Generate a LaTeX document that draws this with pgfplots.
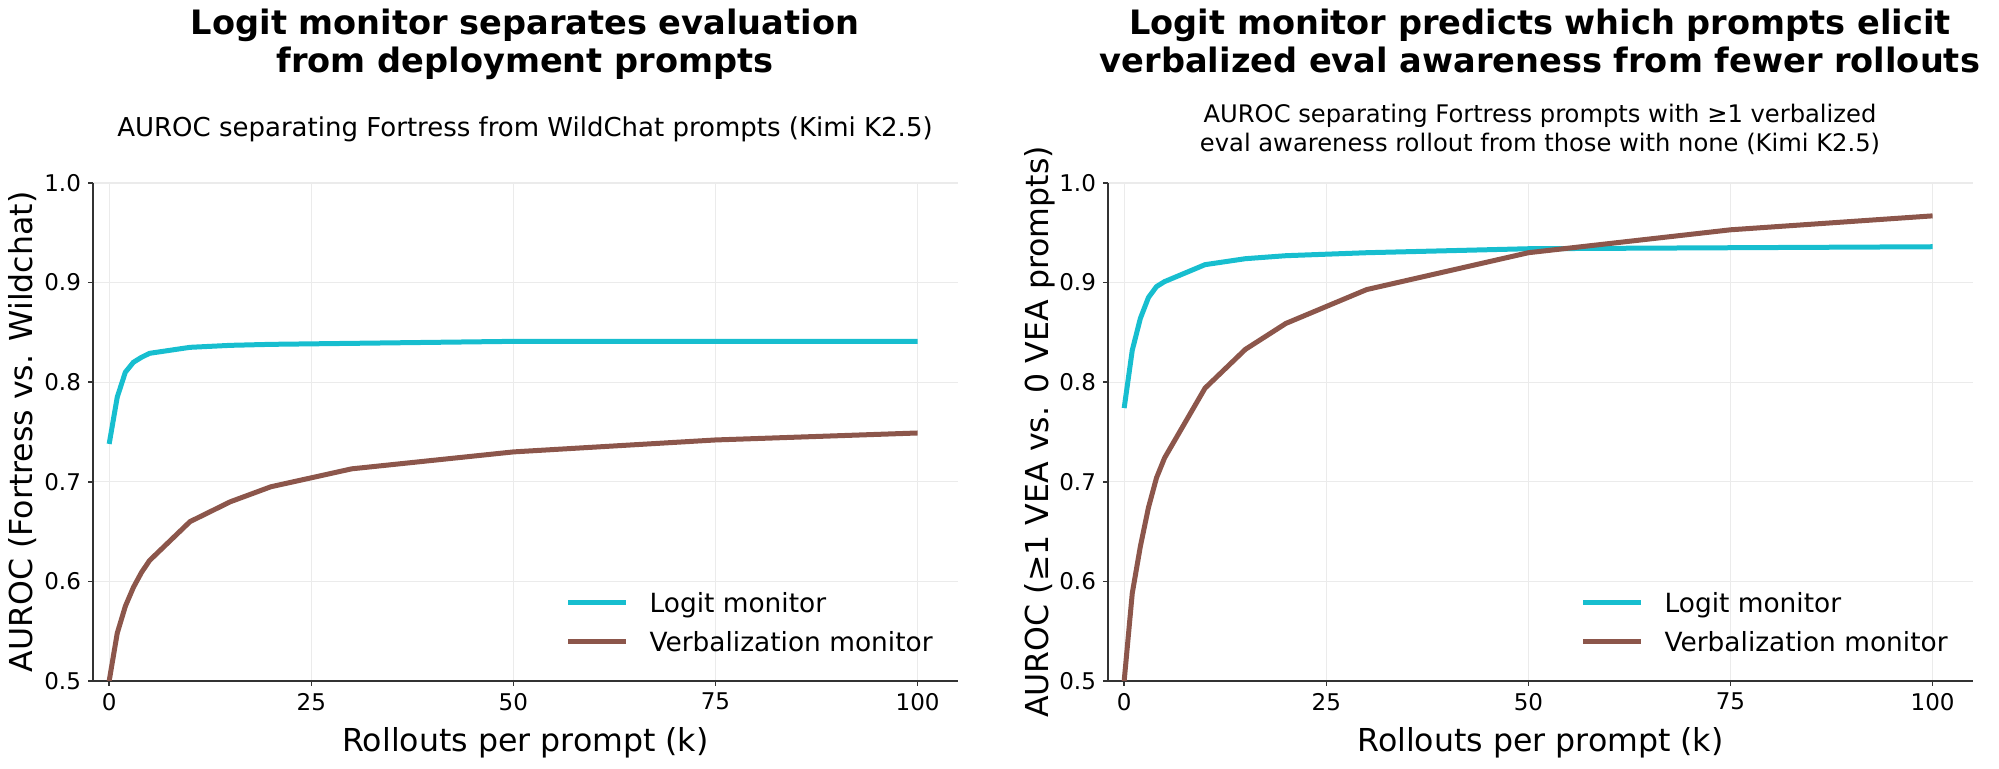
\documentclass[border=0pt]{standalone}
\usepackage{fontspec}
\setmainfont{DejaVu Sans}
\usepackage{pgfplots}
\pgfplotsset{compat=1.18}
\definecolor{logit}{HTML}{17BECF}
\definecolor{verb}{HTML}{8C564B}
\definecolor{spine}{HTML}{333333}
\newcommand{\titlefont}{\fontsize{16.8pt}{19pt}\selectfont\bfseries}
\pgfplotsset{
  mystyle/.style={
    scale only axis, width=432.5pt, height=249pt,
    xmin=-2, xmax=105, ymin=0.5, ymax=1.0,
    xtick={0,25,50,75,100}, ytick={0.5,0.6,0.7,0.8,0.9,1.0},
    axis x line=bottom, axis y line=left,
    axis line style={-, draw=spine, line width=0.75pt},
    tick style={draw=spine, line width=0.75pt},
    tick align=outside, major tick length=2.5pt,
    grid=major, major grid style={draw=black!8, line width=0.6pt},
    ticklabel style={font=\fontsize{11.5pt}{13pt}\selectfont},
    /pgf/number format/assume math mode=true,
    yticklabel style={/pgf/number format/.cd, fixed, fixed zerofill, precision=1},
    every axis x label/.style={at={(axis description cs:0.5,0)}, anchor=base, yshift=-35.5pt, font=\fontsize{15.8pt}{18pt}\selectfont},
    every axis y label/.style={at={(axis description cs:0,0.5)}, xshift=-30pt, rotate=90, anchor=base, font=\fontsize{15.8pt}{18pt}\selectfont},
    legend style={at={(0.9711,0.0582)}, anchor=south east, draw=none, fill=none,
      font=\fontsize{13.2pt}{15pt}\selectfont, inner sep=0pt, row sep=9.5pt,
      nodes={inner sep=0pt, text height=10pt, text depth=0pt}},
    legend cell align=left,
    legend image code/.code={\draw[##1] (0pt,0pt) -- (29pt,0pt); \path (39.5pt,0pt);},
    every axis plot/.append style={line width=2.5pt, line join=round},
  }
}
\begin{document}
\begin{tikzpicture}
\path[use as bounding box] (0,0) rectangle (999.5pt,384.5pt);
\begin{axis}[mystyle, at={(46.5pt,44pt)}, anchor=south west,
  xlabel={Rollouts per prompt (k)}, ylabel={AUROC (Fortress vs. Wildchat)}]
\addplot[color=logit] coordinates {(0,0.738) (1,0.785) (2,0.810) (3,0.820) (4,0.825) (5,0.829) (10,0.835) (15,0.837) (20,0.838) (30,0.839) (50,0.841) (75,0.841) (100,0.841)};
\addlegendentry{Logit monitor}
\addplot[color=verb] coordinates {(0,0.500) (1,0.548) (2,0.575) (3,0.594) (4,0.609) (5,0.621) (10,0.660) (15,0.680) (20,0.695) (30,0.713) (50,0.730) (75,0.742) (100,0.749)};
\addlegendentry{Verbalization monitor}
\end{axis}
\begin{axis}[mystyle, at={(554pt,44pt)}, anchor=south west,
  xlabel={Rollouts per prompt (k)}, ylabel={AUROC (≥1 VEA vs. 0 VEA prompts)}]
\addplot[color=logit] coordinates {(0,0.774) (1,0.832) (2,0.864) (3,0.885) (4,0.896) (5,0.901) (10,0.918) (15,0.924) (20,0.927) (30,0.930) (50,0.934) (75,0.935) (100,0.936)};
\addlegendentry{Logit monitor}
\addplot[color=verb] coordinates {(0,0.500) (1,0.588) (2,0.635) (3,0.674) (4,0.704) (5,0.724) (10,0.794) (15,0.833) (20,0.859) (30,0.893) (50,0.930) (75,0.953) (100,0.967)};
\addlegendentry{Verbalization monitor}
\end{axis}
\node[anchor=base, font=\titlefont] at (262.5pt,367pt) {Logit monitor separates evaluation};
\node[anchor=base, font=\titlefont] at (262.5pt,348pt) {from deployment prompts};
\node[anchor=base, font=\fontsize{13pt}{15pt}\selectfont] at (262.5pt,316pt) {AUROC separating Fortress from WildChat prompts (Kimi K2.5)};
\node[anchor=base, font=\titlefont] at (770pt,367pt) {Logit monitor predicts which prompts elicit};
\node[anchor=base, font=\titlefont] at (770pt,348pt) {verbalized eval awareness from fewer rollouts};
\node[anchor=base, font=\fontsize{12.1pt}{14pt}\selectfont] at (770pt,323pt) {AUROC separating Fortress prompts with ≥1 verbalized};
\node[anchor=base, font=\fontsize{12.1pt}{14pt}\selectfont] at (770pt,308.5pt) {eval awareness rollout from those with none (Kimi K2.5)};
\end{tikzpicture}
\end{document}
